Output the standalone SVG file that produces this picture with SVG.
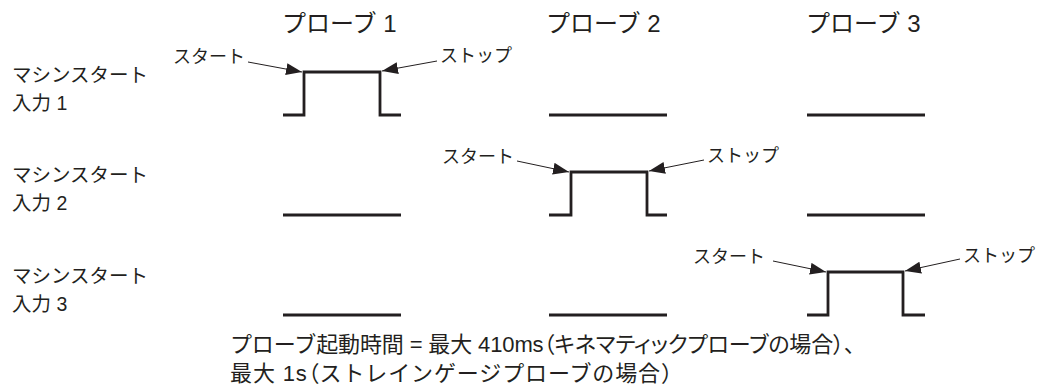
<svg xmlns="http://www.w3.org/2000/svg" width="1040" height="388" viewBox="0 0 1040 388">
<style>
text{font-family:"Liberation Sans","Noto Sans CJK JP",sans-serif;fill:#231f20}
.hdr{font-size:24px}
.lbl{font-size:19.5px}
.arr{font-size:18px}
.note{font-size:22px}
.palt{font-feature-settings:"palt"}
.sig{fill:none;stroke:#231f20;stroke-width:2.8;stroke-linejoin:miter;stroke-linecap:butt}
.lead{fill:none;stroke:#231f20;stroke-width:1}
</style>
<defs>
<marker id="ah" markerUnits="userSpaceOnUse" markerWidth="16" markerHeight="12" viewBox="0 0 16 12" refX="16" refY="6" orient="auto">
<path d="M0,0 L16,6 L0,12 Z" fill="#231f20"/>
</marker>
</defs>
<rect width="1040" height="388" fill="#fff"/>
<g id="headers">
<text class="hdr" x="282" y="32">プローブ 1</text>
<text class="hdr" x="546" y="32">プローブ 2</text>
<text class="hdr" x="806" y="32">プローブ 3</text>
</g>
<g id="row-labels">
<g id="input1"><text class="lbl" x="12" y="82">マシンスタート</text><text class="lbl" x="12" y="110">入力 1</text></g>
<g id="input2"><text class="lbl" x="12" y="182">マシンスタート</text><text class="lbl" x="12" y="210">入力 2</text></g>
<g id="input3"><text class="lbl" x="12" y="283">マシンスタート</text><text class="lbl" x="12" y="311">入力 3</text></g>
</g>
<g id="signals">
<path id="p1-in1" class="sig" d="M283,115 H304 V72 H380 V115 H401"/>
<path id="p2-in1" class="sig" d="M549,115 H667"/>
<path id="p3-in1" class="sig" d="M807,115 H925"/>
<path id="p1-in2" class="sig" d="M283,215 H401"/>
<path id="p2-in2" class="sig" d="M549,215 H571 V172 H647 V215 H667"/>
<path id="p3-in2" class="sig" d="M807,215 H925"/>
<path id="p1-in3" class="sig" d="M283,315 H401"/>
<path id="p2-in3" class="sig" d="M549,315 H667"/>
<path id="p3-in3" class="sig" d="M807,315 H828 V272 H903 V315 H925"/>
</g>
<g id="arrow-labels">
<text class="arr" x="173" y="63">スタート</text>
<text class="arr" x="440" y="62">ストップ</text>
<text class="arr" x="442" y="163">スタート</text>
<text class="arr" x="707" y="162">ストップ</text>
<text class="arr" x="693" y="263">スタート</text>
<text class="arr" x="963" y="262">ストップ</text>
</g>
<g id="connectors">
<line class="lead" x1="248" y1="62" x2="302" y2="72" marker-end="url(#ah)"/>
<line class="lead" x1="437" y1="61" x2="382" y2="71" marker-end="url(#ah)"/>
<line class="lead" x1="517" y1="161" x2="569" y2="172" marker-end="url(#ah)"/>
<line class="lead" x1="704" y1="160" x2="649" y2="171" marker-end="url(#ah)"/>
<line class="lead" x1="773" y1="261" x2="826" y2="272" marker-end="url(#ah)"/>
<line class="lead" x1="960" y1="259" x2="905" y2="271" marker-end="url(#ah)"/>
</g>
<g id="note">
<text class="note" x="230" y="352" textLength="625" lengthAdjust="spacing">プローブ起動時間 = 最大 410ms<tspan class="palt">（キネマティックプローブの場合）、</tspan></text>
<text class="note" x="230" y="381" textLength="453" lengthAdjust="spacing">最大 1s<tspan class="palt">（</tspan>ストレインゲージプローブの場合）</text>
</g>
</svg>
